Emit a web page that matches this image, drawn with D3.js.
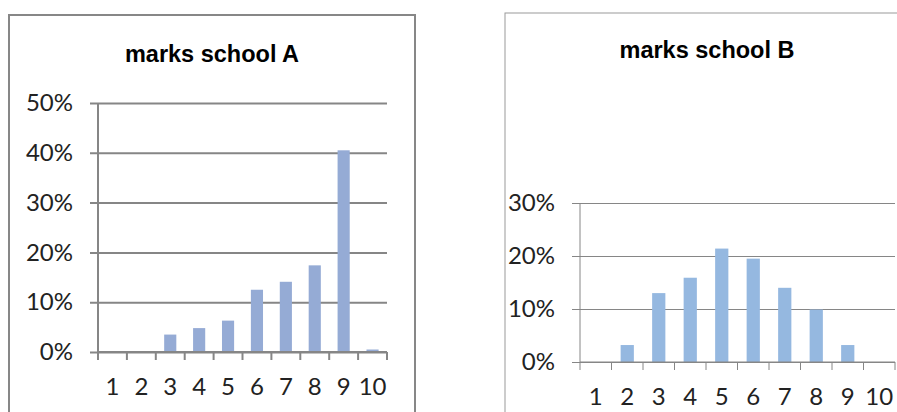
<!DOCTYPE html>
<html>
<head>
<meta charset="utf-8">
<script src="https://cdn.jsdelivr.net/npm/d3@7"></script>
<style>
  body { margin: 0; background: #fff; }
  svg { display: block; }
</style>
</head>
<body>
<script>
// marks on the x axis (same for both schools)
var marks = [1, 2, 3, 4, 5, 6, 7, 8, 9, 10];

// share of pupils per mark
var schoolA = [0, 0, 0.035, 0.048, 0.063, 0.125, 0.141, 0.174, 0.405, 0.005];
var schoolB = [0, 0.032, 0.130, 0.159, 0.214, 0.195, 0.140, 0.099, 0.032, 0];

var ticksA = [0, 0.1, 0.2, 0.3, 0.4, 0.5];
var ticksB = [0, 0.1, 0.2, 0.3];

var svg = d3.select("body").append("svg")
    .attr("width", 897)
    .attr("height", 412);

var drawChart = function(opt) {
    // Frame
    svg.append("rect")
        .attr("x", opt.frame[0])
        .attr("y", opt.frame[1])
        .attr("width", opt.frame[2])
        .attr("height", 500)
        .style("fill", "#fff")
        .style("stroke", opt.frameColor)
        .style("stroke-width", opt.frameWidth);

    // Title
    svg.append("text")
        .attr("x", opt.titleX)
        .attr("y", opt.titleY)
        .attr("text-anchor", "middle")
        .style("font-family", "'Liberation Sans', Arial, sans-serif")
        .style("font-weight", "bold")
        .style("font-size", "23.5px")
        .style("fill", "#000")
        .text(opt.title);

    var w = opt.right - opt.left;
    var h = opt.bottom - opt.top;
    var g = svg.append("g")
        .attr("transform", "translate(" + opt.left + "," + opt.top + ")");

    var x = d3.scaleBand().domain(marks).range([0, w]).padding(0);
    var y = d3.scaleLinear().domain([0, opt.max]).range([h, 0]);

    // Gridlines and y labels
    var yAxis = g.append("g")
        .call(d3.axisLeft(y)
            .tickValues(opt.ticks)
            .tickFormat(d3.format(".0%"))
            .tickSize(-w)
            .tickPadding(25));
    yAxis.select(".domain").remove();
    yAxis.selectAll("line")
        .attr("x1", -8)
        .attr("x2", w)
        .style("stroke", "#868686")
        .style("stroke-width", opt.gridWidth);
    yAxis.selectAll("text")
        .style("font-family", "Lato, 'Open Sans', sans-serif")
        .style("font-size", "24px")
        .style("fill", "#222");

    // Bars
    g.selectAll("rect.bar")
        .data(opt.values)
        .enter().append("rect")
        .attr("class", "bar")
        .attr("x", function(d, i) { return x(marks[i]) + x.bandwidth() * 0.29; })
        .attr("width", x.bandwidth() * 0.42)
        .attr("y", function(d) { return y(d); })
        .attr("height", function(d) { return h - y(d); })
        .style("fill", opt.barColor);

    // Vertical axis line
    g.append("line")
        .attr("x1", 0).attr("x2", 0)
        .attr("y1", 0).attr("y2", h)
        .style("stroke", "#868686")
        .style("stroke-width", opt.gridWidth);

    // Horizontal axis with tick marks between categories
    g.append("line")
        .attr("x1", 0).attr("x2", w)
        .attr("y1", h).attr("y2", h)
        .style("stroke", "#868686")
        .style("stroke-width", opt.gridWidth);
    g.selectAll("line.xtick")
        .data(d3.range(marks.length + 1))
        .enter().append("line")
        .attr("class", "xtick")
        .attr("x1", function(i) { return i * x.step(); })
        .attr("x2", function(i) { return i * x.step(); })
        .attr("y1", h)
        .attr("y2", h + 8)
        .style("stroke", "#868686")
        .style("stroke-width", opt.gridWidth);

    g.selectAll("text.xlab")
        .data(marks)
        .enter().append("text")
        .attr("class", "xlab")
        .attr("x", function(d) { return x(d) + x.bandwidth() / 2; })
        .attr("y", h + 35)
        .attr("dy", "0.35em")
        .attr("text-anchor", "middle")
        .style("font-family", "Lato, 'Open Sans', sans-serif")
        .style("font-size", "24px")
        .style("fill", "#222")
        .text(function(d) { return d; });
};

drawChart({
    frame: [9, 15, 406], frameColor: "#878787", frameWidth: 2,
    title: "marks school A", titleX: 212, titleY: 62,
    left: 98, right: 387, top: 103, bottom: 352,
    max: 0.5, ticks: ticksA, values: schoolA,
    barColor: "#95abd5", gridWidth: 2
});

drawChart({
    frame: [505, 13, 404], frameColor: "#9a9a9a", frameWidth: 1,
    title: "marks school B", titleX: 707, titleY: 58,
    left: 580, right: 895, top: 203, bottom: 362,
    max: 0.3, ticks: ticksB, values: schoolB,
    barColor: "#95b8e0", gridWidth: 1
});
</script>
</body>
</html>
